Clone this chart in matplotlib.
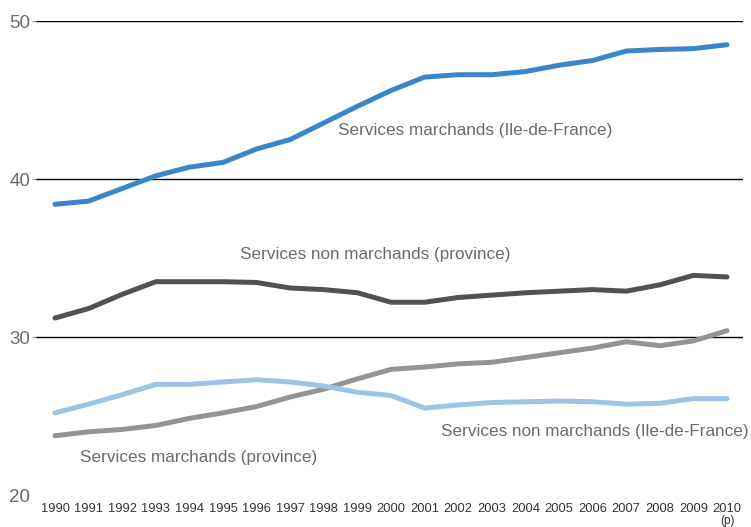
import matplotlib
matplotlib.use("Agg")
import matplotlib.pyplot as plt

plt.rcParams['font.family'] = ['Liberation Sans', 'DejaVu Sans']

years = list(range(1990, 2011))
year_labels = [str(y) for y in years]

marchands_idf = [38.4, 38.6, 39.4, 40.2, 40.75, 41.05, 41.9, 42.5, 43.55, 44.6, 45.6,
                 46.45, 46.6, 46.6, 46.8, 47.2, 47.5, 48.1, 48.2, 48.25, 48.5]
non_marchands_prov = [31.2, 31.8, 32.7, 33.5, 33.5, 33.5, 33.45, 33.1, 33.0, 32.8, 32.2,
                      32.2, 32.5, 32.65, 32.8, 32.9, 33.0, 32.9, 33.3, 33.9, 33.8]
non_marchands_idf = [25.2, 25.75, 26.35, 27.0, 27.0, 27.15, 27.3, 27.15, 26.9, 26.5, 26.3,
                     25.5, 25.7, 25.85, 25.9, 25.95, 25.9, 25.75, 25.8, 26.1, 26.1]
marchands_prov = [23.75, 24.0, 24.15, 24.4, 24.85, 25.2, 25.6, 26.2, 26.7, 27.35, 27.95,
                  28.1, 28.3, 28.4, 28.7, 29.0, 29.3, 29.7, 29.45, 29.75, 30.4]

fig = plt.figure(figsize=(7.51, 5.27), dpi=100)
ax = fig.add_axes([36/751, 1 - 495/527, (743-36)/751, (495-21)/527])

txt = '#6b6b6b'
ax.plot(years, marchands_prov, color='#949497', lw=3.6, solid_capstyle='round', zorder=3)
ax.plot(years, non_marchands_idf, color='#9dc3e6', lw=3.6, solid_capstyle='round', zorder=3)
ax.plot(years, non_marchands_prov, color='#525252', lw=3.6, solid_capstyle='round', zorder=3)
ax.plot(years, marchands_idf, color='#3b86c8', lw=3.6, solid_capstyle='round', zorder=3)

for y in (30, 40, 50):
    ax.axhline(y, color='black', lw=1.0, zorder=1)

ax.set_xlim(1990 - 19/33.6, 2010 + 16/33.6)
ax.set_ylim(20, 50)
for s in ax.spines.values():
    s.set_visible(False)

ax.set_yticks([20, 30, 40, 50])
ax.set_yticklabels(['20', '30', '40', '50'])
ax.tick_params(axis='y', length=3, width=0.8, color='#888888', labelcolor=txt,
               labelsize=13.5, pad=1)
ax.yaxis.get_major_ticks()[0].tick1line.set_visible(False)

ax.set_xticks(years)
ax.set_xticklabels(year_labels)
ax.tick_params(axis='x', length=0, labelcolor='#333333', labelsize=9.3, pad=6)

ax.annotate('(p)', xy=(2010, 20), xytext=(0, -19), textcoords='offset points',
            ha='center', va='center', fontsize=8.5, color='#333333',
            annotation_clip=False)

fs = 12.3
ax.text(1998.42, 43.1, 'Services marchands (Ile-de-France)', fontsize=fs,
        color=txt, ha='left', va='center')
ax.text(1995.5, 35.25, 'Services non marchands (province)', fontsize=fs,
        color=txt, ha='left', va='center')
ax.text(2001.49, 24.0, 'Services non marchands (Ile-de-France)', fontsize=fs,
        color=txt, ha='left', va='center')
ax.text(1990.74, 22.4, 'Services marchands (province)', fontsize=fs,
        color=txt, ha='left', va='center')

fig.savefig('out.png', dpi=100)
